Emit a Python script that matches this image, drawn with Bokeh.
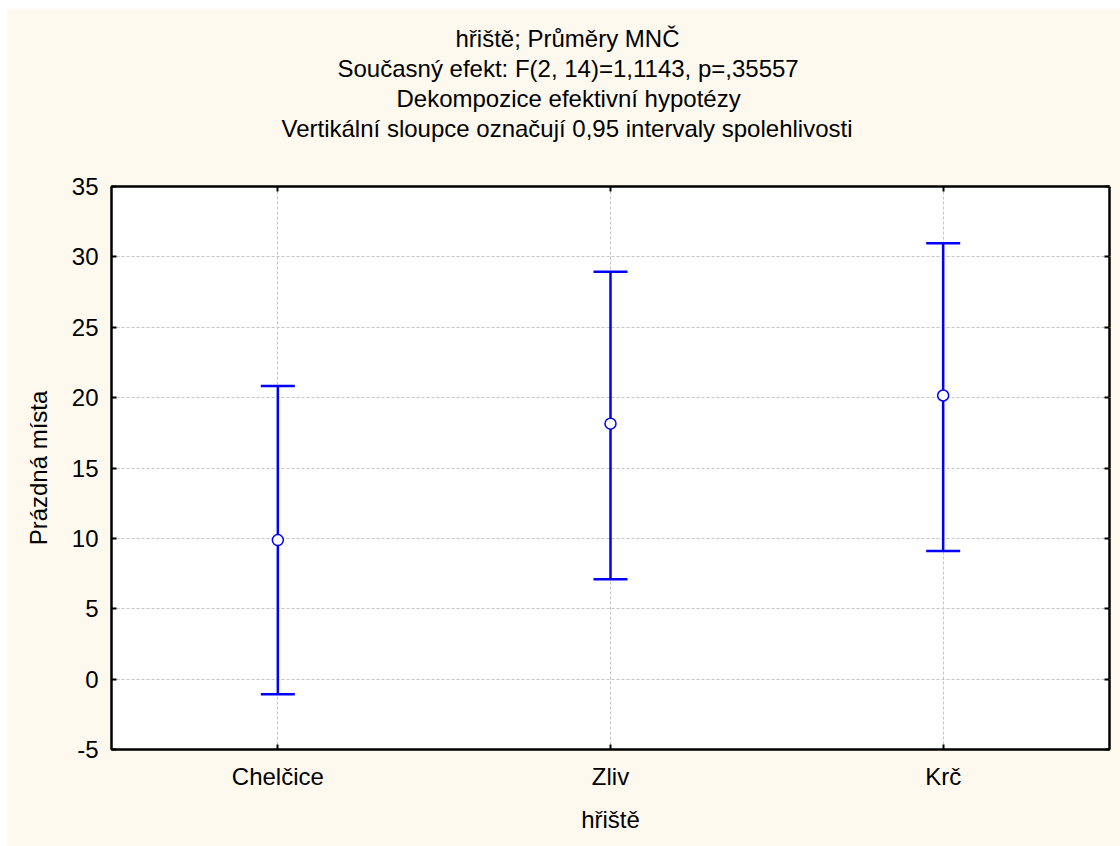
from bokeh.plotting import figure
from bokeh.models import (Range1d, FactorRange, FixedTicker, Title, Whisker, TeeHead,
                          ColumnDataSource, LinearAxis, CategoricalAxis)
from bokeh.embed import file_html
from bokeh.resources import INLINE

categories = ["Chelčice", "Zliv", "Krč"]
means = [9.88, 18.15, 20.15]
lower = [-1.07, 7.10, 9.10]
upper = [20.82, 28.95, 30.96]
y_ticks = [-5, 0, 5, 10, 15, 20, 25, 30, 35]
title_lines = [
    "hřiště; Průměry MNČ",
    "Současný efekt: F(2, 14)=1,1143, p=,35557",
    "Dekompozice efektivní hypotézy",
    "Vertikální sloupce označují 0,95 intervaly spolehlivosti",
]
x_label = "hřiště"
y_label = "Prázdná místa"

FONT = "Liberation Sans"
FS = "24px"
CREAM = "#FDF9EF"
BLUE = "#0000FF"

# left offsets of title lines (pixels from the frame's left edge), centring each line
title_offsets = [344, 226, 285, 170]

src = ColumnDataSource(dict(x=categories, m=means, lo=lower, up=upper))

p = figure(width=1114, height=838, output_backend="svg", toolbar_location=None,
           x_range=FactorRange(*categories, range_padding=0),
           y_range=Range1d(-5, 35), title=None,
           min_border_left=105, min_border_right=11, min_border_bottom=97,
           min_border_top=178)
p.margin = (8, 0, 0, 6)
p.border_fill_color = CREAM
p.background_fill_color = "white"
p.outline_line_color = "black"
p.outline_line_width = 2

xax = p.below[0]
yax = p.left[0]

# inward ticks on top and right (labels blend into the border); top axis also spaces the titles
ta = CategoricalAxis(major_label_text_font_size="1px", major_label_text_color=CREAM,
                     major_label_standoff=40,
                     major_tick_in=5, major_tick_out=0, axis_line_color="black",
                     axis_line_width=2, major_tick_line_width=2)
p.add_layout(ta, "above")
ra = LinearAxis(ticker=FixedTicker(ticks=y_ticks),
                major_label_text_font_size="1px", major_label_text_color=CREAM,
                major_label_standoff=0, major_tick_in=5, major_tick_out=0,
                minor_tick_line_color=None, axis_line_color="black", axis_line_width=2,
                major_tick_line_width=2)
p.add_layout(ra, "right")

for t, off in reversed(list(zip(title_lines, title_offsets))):
    p.add_layout(Title(text=t, align="left", offset=off, text_font=FONT,
                       text_font_size=FS, text_font_style="normal",
                       text_color="black", standoff=1), "above")

# grid
p.xgrid.grid_line_color = "#c4c4c4"
p.ygrid.grid_line_color = "#c4c4c4"
p.xgrid.grid_line_dash = "3 2"
p.ygrid.grid_line_dash = "3 2"
yax.ticker = FixedTicker(ticks=y_ticks)

for ax in [xax, yax]:
    ax.axis_line_color = "black"
    ax.axis_line_width = 2
    ax.major_tick_in = 5
    ax.major_tick_out = 0
    ax.major_tick_line_color = "black"
    ax.major_tick_line_width = 2
    ax.minor_tick_line_color = None
    ax.major_label_text_font = FONT
    ax.major_label_text_font_size = FS
    ax.major_label_text_color = "black"
    ax.axis_label_text_font = FONT
    ax.axis_label_text_font_size = FS
    ax.axis_label_text_font_style = "normal"
    ax.axis_label_text_color = "black"

yax.axis_label = y_label
yax.major_label_standoff = 13
yax.axis_label_standoff = 17
yax.major_label_overrides = {-5: "-5"}
xax.axis_label = x_label
xax.major_label_standoff = 13
xax.axis_label_standoff = 13

w = Whisker(source=src, base="x", lower="lo", upper="up", line_color=BLUE, line_width=2.5,
            upper_head=TeeHead(size=34, line_color=BLUE, line_width=2.5),
            lower_head=TeeHead(size=34, line_color=BLUE, line_width=2.5))
p.add_layout(w)
p.scatter("x", "m", source=src, size=11, fill_color="white", line_color=BLUE, line_width=1.5)

open("out.html", "w").write(file_html(p, INLINE))
